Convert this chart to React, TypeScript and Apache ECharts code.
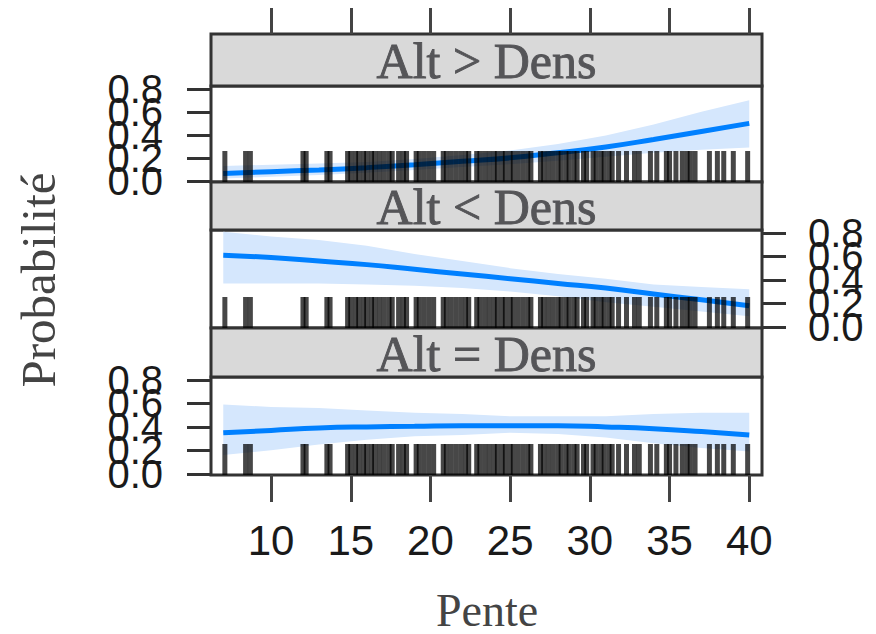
import React, { useEffect, useRef } from "react";
import * as echarts from "echarts";

// Panel strips (one per response level)
const panelLabels = ["Alt > Dens", "Alt < Dens", "Alt = Dens"];

// Axis ticks
const xTicks = [10, 15, 20, 25, 30, 35, 40];
const yTicks = [0, 0.2, 0.4, 0.6, 0.8];
// the labels are split over two coincident axes so each axis keeps all of its own
const yLabelsA = [0, 0.4, 0.8];
const yLabelsB = [0.2, 0.6];

// Slope values where the fitted effect is evaluated
const pente = [7, 10, 13, 16, 19, 22, 25, 28, 31, 34, 37, 40];

// Alt > Dens
const fitGt = [0.065, 0.08, 0.095, 0.115, 0.14, 0.17, 0.2, 0.245, 0.295, 0.36, 0.43, 0.5];
const lowGt = [0.02, 0.035, 0.05, 0.07, 0.095, 0.12, 0.145, 0.175, 0.21, 0.245, 0.27, 0.29];
const uppGt = [0.13, 0.14, 0.15, 0.165, 0.19, 0.225, 0.265, 0.32, 0.395, 0.49, 0.6, 0.7];

// Alt < Dens
const fitLt = [0.61, 0.59, 0.56, 0.53, 0.49, 0.45, 0.41, 0.37, 0.33, 0.28, 0.23, 0.18];
const lowLt = [0.37, 0.37, 0.37, 0.36, 0.35, 0.33, 0.3, 0.26, 0.21, 0.17, 0.13, 0.09];
const uppLt = [0.81, 0.77, 0.74, 0.69, 0.62, 0.56, 0.5, 0.45, 0.41, 0.36, 0.34, 0.32];

// Alt = Dens
const fitEq = [0.35, 0.37, 0.39, 0.4, 0.405, 0.41, 0.41, 0.41, 0.4, 0.385, 0.36, 0.33];
const lowEq = [0.16, 0.2, 0.25, 0.29, 0.32, 0.33, 0.35, 0.34, 0.31, 0.26, 0.22, 0.19];
const uppEq = [0.59, 0.57, 0.56, 0.54, 0.52, 0.51, 0.49, 0.49, 0.49, 0.51, 0.52, 0.52];

// Observed slopes (rug)
const rugPente = [
  7.1, 8.4, 8.7, 12.0, 12.2, 13.5, 13.7, 14.8, 15.0, 15.3, 15.5, 15.8, 16.0, 16.3,
  16.5, 16.8, 17.1, 17.4, 17.6, 18.0, 18.3, 18.5, 19.1, 19.3, 19.6, 19.9, 20.2,
  20.8, 21.0, 21.3, 21.6, 21.9, 22.2, 22.4, 22.9, 23.1, 23.4, 23.7, 24.0, 24.2,
  24.5, 24.7, 25.0, 25.2, 25.5, 25.8, 26.1, 26.3, 26.9, 27.1, 27.4, 27.7, 28.0,
  28.2, 28.5, 28.7, 29.0, 29.2, 29.6, 29.8, 30.2, 30.4, 30.7, 30.9, 31.2, 31.4,
  31.8, 32.3, 32.8, 33.1, 33.8, 34.2, 34.8, 35.0, 35.4, 35.8, 36.1, 36.3, 36.6,
  37.5, 38.0, 38.4, 39.0, 39.9,
];

const fits = [fitGt, fitLt, fitEq];
const lows = [lowGt, lowLt, lowEq];
const upps = [uppGt, uppLt, uppEq];

const X_MIN = 6.23;
const X_MAX = 40.8;
const Y_MIN = -0.01;
const Y_MAX = 0.825;

const FRAME_LEFT = 211;
const FRAME_RIGHT = 762;
const W = 876;
const H = 634;

// panel geometry: strip above each plotting region
const panelBoxes = [
  { stripTop: 34, top: 86, height: 96 },
  { stripTop: 182, top: 230, height: 98 },
  { stripTop: 328, top: 377, height: 98 },
];

const LINE_BLUE = "#0080ff";
const BAND_BLUE = "#d5e7fd";
const FRAME = "#333333";

function yAxisFor(i: number, labels: number[], withTicks: boolean) {
  const onRight = i === 1;
  return {
    gridIndex: i,
    type: "value",
    min: Y_MIN,
    max: Y_MAX,
    position: onRight ? "right" : "left",
    offset: 0,
    splitLine: { show: false },
    axisLine: { show: false, onZero: false },
    axisTick: {
      show: withTicks,
      customValues: yTicks,
      length: 24,
      lineStyle: { color: FRAME, width: 3 },
    },
    axisLabel: {
      customValues: labels,
      showMinLabel: true,
      showMaxLabel: true,
      hideOverlap: false,
      margin: onRight ? 46 : 48,
      fontFamily: "Liberation Sans",
      fontSize: 40,
      color: "#1a1a1a",
      formatter: (v: number) => v.toFixed(1),
    },
  };
}

export default function App() {
  const ref = useRef<HTMLDivElement>(null);

  useEffect(() => {
    document.body.style.margin = "0";
    if (!ref.current) return;
    const chart = echarts.init(ref.current, undefined, { renderer: "svg" });

    const grids: any[] = [];
    const xAxes: any[] = [];
    const yAxes: any[] = [];
    const series: any[] = [];
    const graphics: any[] = [];

    panelBoxes.forEach((b, i) => {
      grids.push({
        left: FRAME_LEFT,
        right: W - FRAME_RIGHT,
        top: b.top,
        height: b.height,
        show: true,
        borderColor: FRAME,
        borderWidth: 3,
        backgroundColor: "transparent",
      });

      const isBottom = i === 2;
      const isTop = i === 0;
      xAxes.push({
        gridIndex: i,
        type: "value",
        min: X_MIN,
        max: X_MAX,
        position: isTop ? "top" : "bottom",
        offset: isTop ? b.top - panelBoxes[0].stripTop : 0,
        show: isTop || isBottom,
        splitLine: { show: false },
        axisLine: { show: false, onZero: false },
        axisTick: {
          show: true,
          customValues: xTicks,
          length: isTop ? 26 : 27,
          lineStyle: { color: "#444", width: 3 },
        },
        axisLabel: {
          show: isBottom,
          customValues: xTicks,
          margin: 44,
          fontFamily: "Liberation Sans",
          fontSize: 42,
          color: "#1a1a1a",
        },
      });

      yAxes.push(yAxisFor(i, yLabelsA, true));
      yAxes.push(yAxisFor(i, yLabelsB, false));
      const yIdx = 2 * i;

      const low = lows[i];
      const upp = upps[i];
      // confidence band
      series.push({
        type: "custom",
        xAxisIndex: i,
        yAxisIndex: yIdx,
        z: 1,
        silent: true,
        data: [[pente[0], low[0]]],
        encode: { x: 0, y: 1 },
        renderItem: (_p: any, api: any) => {
          const pts: number[][] = [];
          pente.forEach((x, k) => pts.push(api.coord([x, upp[k]])));
          for (let k = pente.length - 1; k >= 0; k--) pts.push(api.coord([pente[k], low[k]]));
          return {
            type: "polygon",
            shape: { points: pts },
            style: { fill: BAND_BLUE },
          };
        },
      });

      // fitted probability
      series.push({
        type: "line",
        xAxisIndex: i,
        yAxisIndex: yIdx,
        z: 2,
        smooth: true,
        showSymbol: false,
        silent: true,
        data: pente.map((x, k) => [x, fits[i][k]]),
        lineStyle: { color: LINE_BLUE, width: 5 },
      });

      // rug of observed slopes
      series.push({
        type: "custom",
        xAxisIndex: i,
        yAxisIndex: yIdx,
        z: 3,
        silent: true,
        data: rugPente.map((x) => [x, Y_MIN]),
        encode: { x: 0, y: 1 },
        renderItem: (_p: any, api: any) => {
          const p = api.coord([api.value(0), Y_MIN]);
          return {
            type: "line",
            shape: { x1: p[0], y1: p[1], x2: p[0], y2: p[1] - 31 },
            style: { stroke: "rgba(0,0,0,0.72)", lineWidth: 5 },
          };
        },
      });

      // strip
      graphics.push({
        type: "rect",
        shape: {
          x: FRAME_LEFT,
          y: b.stripTop,
          width: FRAME_RIGHT - FRAME_LEFT,
          height: b.top - b.stripTop,
        },
        style: { fill: "#d9d9d9", stroke: FRAME, lineWidth: 3 },
        z: 0,
      });
      graphics.push({
        type: "text",
        x: (FRAME_LEFT + FRAME_RIGHT) / 2,
        y: (b.stripTop + b.top) / 2 + 1,
        style: {
          text: panelLabels[i],
          fill: "#555558",
          stroke: "#555558",
          lineWidth: 0.9,
          fontFamily: "Liberation Serif",
          fontSize: 50,
          textAlign: "center",
          textVerticalAlign: "middle",
        },
        z: 1,
      });
    });

    graphics.push({
      type: "text",
      x: 38,
      y: 280,
      rotation: Math.PI / 2,
      style: {
        text: "Probabilité",
        fill: "#444",
        fontFamily: "Liberation Serif",
        fontSize: 49,
        textAlign: "center",
        textVerticalAlign: "middle",
      },
    });
    graphics.push({
      type: "text",
      x: 487,
      y: 610,
      style: {
        text: "Pente",
        fill: "#444",
        fontFamily: "Liberation Serif",
        fontSize: 46,
        textAlign: "center",
        textVerticalAlign: "middle",
      },
    });

    chart.setOption({
      animation: false,
      backgroundColor: "#ffffff",
      grid: grids,
      xAxis: xAxes,
      yAxis: yAxes,
      series,
      graphic: graphics,
    });

    return () => chart.dispose();
  }, []);

  return <div ref={ref} style={{ width: W, height: H }} />;
}
